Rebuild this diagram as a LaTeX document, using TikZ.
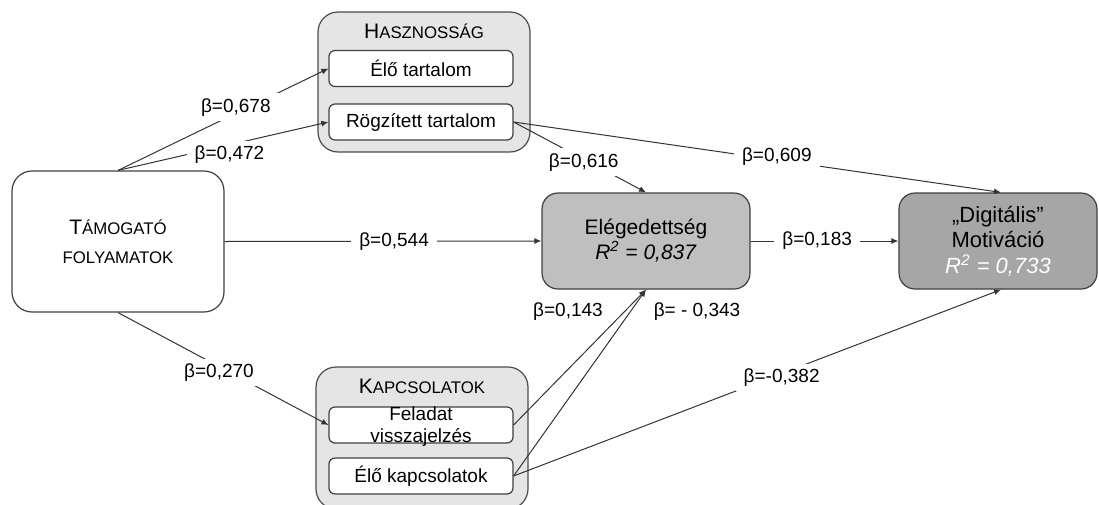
\documentclass[tikz,border=0pt]{standalone}
\usepackage{fontspec}
\setmainfont{Liberation Sans}
\usetikzlibrary{arrows.meta,positioning}
\newcommand{\fakesc}[2]{{\fontsize{10.5pt}{14.5pt}\selectfont #1}{\fontsize{8.4pt}{14.5pt}\selectfont #2}}

\begin{document}
\begin{tikzpicture}[x=0.5pt, y=-0.5pt,
	every node/.style={font=\fontsize{9.5pt}{11.5pt}\selectfont},
	csoport/.style={draw=black!70, line width=0.6pt, fill=black!10, rounded corners=10pt, inner sep=0pt, minimum width=106pt, minimum height=70pt},
	belso/.style={draw=black!75, line width=0.6pt, fill=white, rounded corners=3pt, inner sep=0pt, minimum width=92pt, minimum height=18pt},
	fo/.style={draw=black!75, line width=0.6pt, rounded corners=8pt, align=center, inner sep=0pt, minimum width=104pt, minimum height=48pt},
	nyil/.style={draw=black!80, line width=0.5pt, -{Latex[length=3.5pt,width=3pt]}},
	beta/.style={fill=white, inner xsep=4pt, inner ysep=2.5pt}]
		%%%%% START %%%%%
		\useasboundingbox (0,0) rectangle (1099,504);
		
		\node[fo, fill=white, minimum width=106pt, minimum height=70.5pt, rounded corners=10pt, font=\fontsize{10pt}{14.5pt}\selectfont] (tamog) at (118,241.5) {\fakesc{T}{ÁMOGATÓ}\\\fakesc{}{FOLYAMATOK}};
		
		\node[csoport] (hasz) at (424,82) {};
		\node (haszcim) at ([yshift=-10pt]hasz.north) {\fakesc{H}{ASZNOSSÁG}};
		\node[belso] (elotart) at (421,68.5) {Élő tartalom};
		\node[belso] (rogz) at (421,122) {Rögzített tartalom};
		
		\node[csoport, minimum height=71pt] (kapcs) at (422,438) {};
		\node (kapcscim) at ([yshift=-10pt]kapcs.north) {\fakesc{K}{APCSOLATOK}};
		\node[belso] (felad) at (421,425) {};
		\node[align=center, font=\fontsize{9.5pt}{11pt}\selectfont] (feladszov) at ([yshift=-1pt]felad) {Feladat\\visszajelzés};
		\node[belso] (elokapcs) at (421,476) {Élő kapcsolatok};
		
		\node[fo, fill=black!25, font=\fontsize{10.5pt}{12.5pt}\selectfont] (eleg) at (646,241) {Elégedettség\\\textit{R\textsuperscript{2} = 0,837}};
		\node[fo, fill=black!35, minimum width=99pt, font=\fontsize{11pt}{12.75pt}\selectfont] (digit) at (998,241) {„Digitális”\\Motiváció\\\textcolor{white}{\textit{R\textsuperscript{2} = 0,733}}};
		
		\draw[nyil] (tamog.north) -- node[beta, pos=0.56, yshift=3pt] (b678) {β=0,678} (elotart.west);
		\draw[nyil] (tamog.north) -- node[beta, pos=0.53, yshift=-5pt] (b472) {β=0,472} (rogz.west);
		\draw[nyil] (tamog.east) -- node[beta, pos=0.535] (b544) {β=0,544} (eleg.west);
		\draw[nyil] (tamog.south) -- node[beta, pos=0.48, yshift=-3pt] (b270) {β=0,270} (felad.west);
		
		\draw[nyil] (rogz.east) -- node[beta, pos=0.53, yshift=-1.5pt] (b616) {β=0,616} (eleg.north);
		\draw[nyil] (rogz.east) -- node[beta, pos=0.54, yshift=1.5pt] (b609) {β=0,609} ([xshift=1.5pt]digit.north);
		\draw[nyil] (eleg.east) -- node[beta, pos=0.45] (b183) {β=0,183} (digit.west);
		
		\draw[nyil] (felad.east) -- (eleg.south);
		\draw[nyil] (elokapcs.east) -- (eleg.south);
		\draw[nyil] (elokapcs.east) -- node[beta, pos=0.55, yshift=-2pt] (b382) {β=-0,382} ([xshift=1.5pt]digit.south);
		
		\node (b143) at (568,312) {β=0,143};
		\node (b343) at (697,312) {β= - 0,343};
		%%%%% END %%%%%
\end{tikzpicture}
\end{document}
